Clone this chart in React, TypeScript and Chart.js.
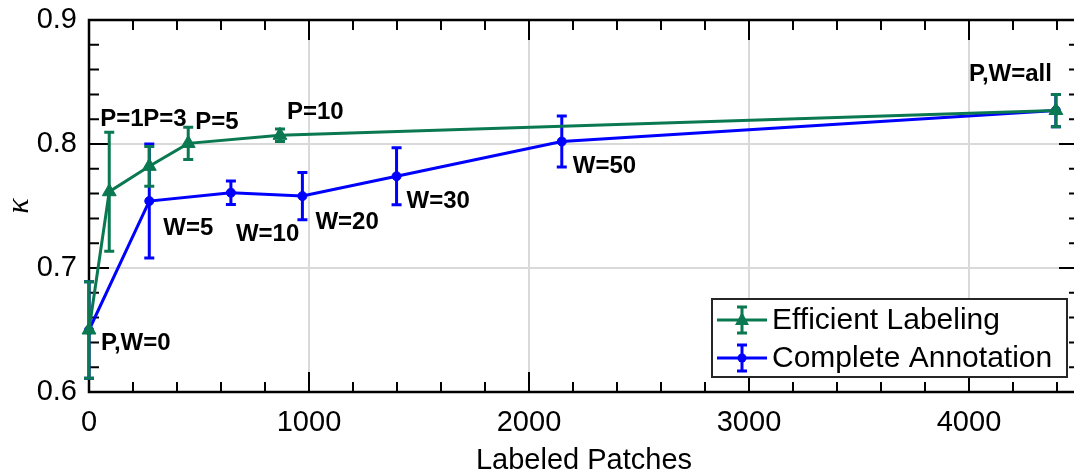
import React, { useEffect, useRef } from "react";
import { Chart, registerables } from "chart.js";

Chart.register(...registerables);

// ---- data ----
const patchesEfficient = [0, 92, 274, 451, 868, 4395];
const kappaEfficient = [0.65, 0.7615, 0.782, 0.8005, 0.807, 0.827];
const errEfficient = [0.039, 0.048, 0.016, 0.013, 0.005, 0.013];
const labelsEfficient = ["P,W=0", "P=1", "P=3", "P=5", "P=10", "P,W=all"];

const patchesComplete = [0, 274, 645, 970, 1398, 2149, 4395];
const kappaComplete = [0.65, 0.754, 0.7607, 0.758, 0.774, 0.802, 0.827];
const errComplete = [0.039, 0.046, 0.0095, 0.019, 0.023, 0.0205, 0.013];
const labelsComplete = ["", "W=5", "W=10", "W=20", "W=30", "W=50", ""];

const seriesNames = ["Efficient Labeling", "Complete Annotation"];
const xTicks = [0, 1000, 2000, 3000, 4000];
const yTicks = [0.6, 0.7, 0.8, 0.9];

// label placement (pixel offsets from the point: dx, dy, align)
const placeEfficient: [number, number, CanvasTextAlign][] = [
  [12, 13, "left"],
  [-9, -72, "left"],
  [-6, -47, "left"],
  [7, -21, "left"],
  [7, -23, "left"],
  [-4, -36, "right"],
];
const placeComplete: [number, number, CanvasTextAlign][] = [
  [0, 0, "left"],
  [14, 27, "left"],
  [5, 42, "left"],
  [13, 26, "left"],
  [10, 25, "left"],
  [11, 25, "left"],
  [0, 0, "left"],
];

const GREEN = "#0a7850";
const BLUE = "#0000ff";
const FONT = '"Liberation Sans", Arial, sans-serif';

export default function App() {
  const ref = useRef<HTMLCanvasElement>(null);

  useEffect(() => {
    const canvas = ref.current!;

    const errorBars = {
      id: "errorBars",
      beforeDatasetDraw(chart: any, args: any) {
        const ds = chart.data.datasets[args.index];
        const errs = ds.errors as number[];
        if (!errs) return;
        const ys = chart.scales.y;
        const ctx = chart.ctx;
        ctx.save();
        ctx.strokeStyle = ds.borderColor;
        ctx.lineWidth = 3;
        args.meta.data.forEach((pt: any, j: number) => {
          const v = ds.data[j].y;
          const e = errs[j];
          const x = pt.x;
          const t = ys.getPixelForValue(v + e);
          const b = ys.getPixelForValue(v - e);
          ctx.beginPath();
          ctx.moveTo(x, t);
          ctx.lineTo(x, b);
          ctx.moveTo(x - 5, t);
          ctx.lineTo(x + 5, t);
          ctx.moveTo(x - 5, b);
          ctx.lineTo(x + 5, b);
          ctx.stroke();
        });
        ctx.restore();
      },
    };

    const frame = {
      id: "frame",
      beforeDatasetsDraw(chart: any) {
        const { left, right, top, bottom } = chart.chartArea;
        const xs = chart.scales.x;
        const ys = chart.scales.y;
        const ctx = chart.ctx;
        ctx.save();
        ctx.strokeStyle = "#000";
        ctx.lineWidth = 2;
        ctx.beginPath();
        for (let k = 0; k * 200 <= xs.max; k++) {
          const px = xs.getPixelForValue(k * 200);
          const len = k % 5 === 0 ? 20 : 10;
          ctx.moveTo(px, bottom);
          ctx.lineTo(px, bottom - len);
          ctx.moveTo(px, top);
          ctx.lineTo(px, top + len);
        }
        for (let k = 0; k <= 15; k++) {
          const py = ys.getPixelForValue(ys.min + k * 0.02);
          const len = k % 5 === 0 ? 20 : 10;
          ctx.moveTo(left, py);
          ctx.lineTo(left + len, py);
          ctx.moveTo(right, py);
          ctx.lineTo(right - len, py);
        }
        ctx.stroke();
        ctx.lineWidth = 2.5;
        ctx.strokeRect(left, top, right - left, bottom - top);
        ctx.restore();
      },
    };

    const annotations = {
      id: "annotations",
      afterDatasetsDraw(chart: any) {
        const ctx = chart.ctx;
        const sets = [
          { labels: labelsEfficient, place: placeEfficient },
          { labels: labelsComplete, place: placeComplete },
        ];
        ctx.save();
        ctx.fillStyle = "#000";
        ctx.font = `bold 24px ${FONT}`;
        ctx.textBaseline = "middle";
        sets.forEach((s, i) => {
          const meta = chart.getDatasetMeta(i);
          s.labels.forEach((txt, j) => {
            if (!txt) return;
            const pt = meta.data[j];
            const [dx, dy, al] = s.place[j];
            ctx.textAlign = al;
            ctx.fillText(txt, pt.x + dx, pt.y + dy);
          });
        });
        ctx.restore();
      },
    };

    const legendBox = {
      id: "legendBox",
      afterDraw(chart: any) {
        const { right, bottom } = chart.chartArea;
        const ctx = chart.ctx;
        const w = 355;
        const h = 78;
        const bx = right - 12 - w;
        const by = bottom - 15 - h;
        ctx.save();
        ctx.fillStyle = "#fff";
        ctx.fillRect(bx, by, w, h);
        ctx.strokeStyle = "#262626";
        ctx.lineWidth = 2;
        ctx.strokeRect(bx, by, w, h);
        const rows = [by + 21, by + 59];
        const colors = [GREEN, BLUE];
        rows.forEach((ry, i) => {
          const c = colors[i];
          const mx = bx + 30;
          ctx.strokeStyle = c;
          ctx.fillStyle = c;
          ctx.lineWidth = 3;
          ctx.beginPath();
          ctx.moveTo(bx + 5, ry);
          ctx.lineTo(bx + 55, ry);
          ctx.moveTo(mx, ry - 13);
          ctx.lineTo(mx, ry + 13);
          ctx.moveTo(mx - 5, ry - 13);
          ctx.lineTo(mx + 5, ry - 13);
          ctx.moveTo(mx - 5, ry + 13);
          ctx.lineTo(mx + 5, ry + 13);
          ctx.stroke();
          ctx.beginPath();
          if (i === 0) {
            ctx.moveTo(mx, ry - 8);
            ctx.lineTo(mx + 7, ry + 5);
            ctx.lineTo(mx - 7, ry + 5);
            ctx.closePath();
          } else {
            ctx.arc(mx, ry, 4.5, 0, Math.PI * 2);
          }
          ctx.fill();
          ctx.fillStyle = "#000";
          ctx.font = `30px ${FONT}`;
          ctx.textAlign = "left";
          ctx.textBaseline = "middle";
          ctx.fillText(seriesNames[i], bx + 60, ry + 1);
        });
        ctx.restore();
      },
    };

    const chart = new Chart(canvas, {
      type: "line",
      data: {
        datasets: [
          {
            label: seriesNames[0],
            data: patchesEfficient.map((x, i) => ({ x, y: kappaEfficient[i] })),
            errors: errEfficient,
            borderColor: GREEN,
            backgroundColor: GREEN,
            borderWidth: 3,
            pointStyle: "triangle",
            pointRadius: 8,
            pointBorderWidth: 1,
            tension: 0,
            clip: false,
          } as any,
          {
            label: seriesNames[1],
            data: patchesComplete.map((x, i) => ({ x, y: kappaComplete[i] })),
            errors: errComplete,
            borderColor: BLUE,
            backgroundColor: BLUE,
            borderWidth: 3,
            pointStyle: "circle",
            pointRadius: 4.5,
            pointBorderWidth: 1,
            tension: 0,
            clip: false,
          } as any,
        ],
      },
      options: {
        responsive: false,
        animation: false,
        devicePixelRatio: 1,
        layout: { padding: { left: 0, right: 21, top: 20, bottom: 0 } },
        plugins: { legend: { display: false }, tooltip: { enabled: false } },
        scales: {
          x: {
            type: "linear",
            min: 0,
            max: 4500,
            afterBuildTicks(scale: any) {
              scale.ticks = xTicks.map((v) => ({ value: v }));
            },
            ticks: {
              color: "#000",
              font: { family: FONT, size: 29 },
              padding: 14,
              maxRotation: 0,
              autoSkip: false,
              callback: (v: any) => String(v),
            },
            grid: { color: "#d9d9d9", lineWidth: 2, drawTicks: false },
            border: { display: false },
            title: {
              display: true,
              text: "Labeled Patches",
              color: "#000",
              font: { family: FONT, size: 29, lineHeight: 0.8 },
              padding: 0,
            },
            afterFit(scale: any) {
              scale.height = 81;
              scale.paddingLeft = 0;
              scale.paddingRight = 0;
            },
          },
          y: {
            type: "linear",
            min: 0.6,
            max: 0.9,
            afterBuildTicks(scale: any) {
              scale.ticks = yTicks.map((v) => ({ value: v }));
            },
            ticks: {
              color: "#000",
              font: { family: FONT, size: 29 },
              padding: 12,
              autoSkip: false,
              callback: (v: any) => Number(v).toFixed(1),
            },
            grid: { color: "#d9d9d9", lineWidth: 2, drawTicks: false },
            border: { display: false },
            title: {
              display: true,
              text: "κ",
              color: "#000",
              font: { family: '"Liberation Serif", serif', size: 32, style: "italic" },
              padding: 0,
            },
            afterFit(scale: any) {
              scale.width = 89;
              scale.paddingTop = 0;
              scale.paddingBottom = 0;
            },
          },
        },
      } as any,
      plugins: [frame, errorBars, annotations, legendBox],
    });

    return () => chart.destroy();
  }, []);

  return (
    <div
      style={{
        position: "absolute",
        left: 0,
        top: 0,
        width: 1074,
        height: 473,
        overflow: "hidden",
        background: "#fff",
      }}
    >
      <canvas ref={ref} width={1100} height={473} style={{ width: 1100, height: 473, display: "block" }} />
    </div>
  );
}
